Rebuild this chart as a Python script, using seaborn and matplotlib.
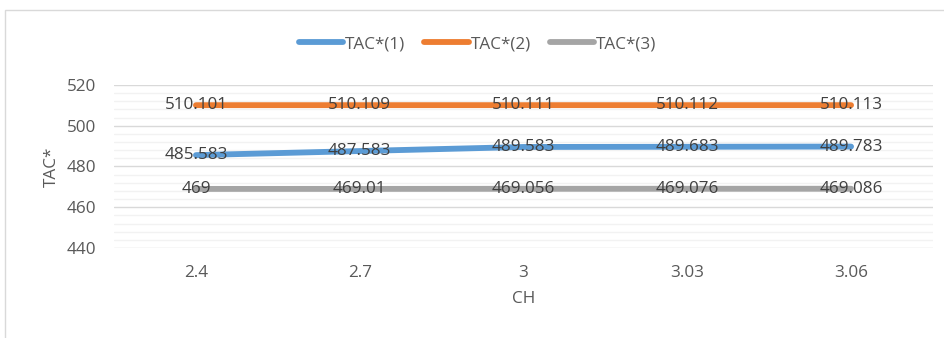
import matplotlib
matplotlib.use("Agg")
import matplotlib.pyplot as plt
import seaborn as sns
import pandas as pd
from matplotlib.patches import Rectangle
from matplotlib.ticker import MultipleLocator

# Data
ch_values = ["2.4", "2.7", "3", "3.03", "3.06"]
tac_1 = [485.583, 487.583, 489.583, 489.683, 489.783]
tac_2 = [510.101, 510.109, 510.111, 510.112, 510.113]
tac_3 = [469, 469.01, 469.056, 469.076, 469.086]
series_names = ["TAC*(1)", "TAC*(2)", "TAC*(3)"]
label_texts = [
    ["485.583", "487.583", "489.583", "489.683", "489.783"],
    ["510.101", "510.109", "510.111", "510.112", "510.113"],
    ["469", "469.01", "469.056", "469.076", "469.086"],
]
colors = ["#5B9BD5", "#ED7D31", "#A5A5A5"]

sns.set_theme(style="white")
plt.rcParams["font.family"] = ["Open Sans", "DejaVu Sans"]

FS = 12.3
LW = 4.2

rows = []
for name, vals in zip(series_names, [tac_1, tac_2, tac_3]):
    for c, v in zip(ch_values, vals):
        rows.append({"CH": c, "TAC*": v, "series": name})
df = pd.DataFrame(rows)

fig = plt.figure(figsize=(9.44, 3.38), dpi=100)
ax = fig.add_axes([0.1208, 0.2663, 0.8675, 0.4822])

sns.lineplot(data=df, x="CH", y="TAC*", hue="series", palette=colors,
             linewidth=LW, ax=ax, legend=False, sort=False, zorder=3)
for line in ax.lines:
    line.set_solid_capstyle("round")

# Data labels centred on the points
label_color = "#404040"
for vals, texts in zip([tac_1, tac_2, tac_3], label_texts):
    for i, (v, t) in enumerate(zip(vals, texts)):
        ax.text(i, v, t, ha="center", va="center", fontsize=FS,
                color=label_color, zorder=4)

ax.set_xlim(-0.5, len(ch_values) - 0.5)
ax.set_ylim(440, 520)
ax.yaxis.set_major_locator(MultipleLocator(20))
ax.yaxis.set_minor_locator(MultipleLocator(4))
ax.grid(which="major", axis="y", color="#D9D9D9", linewidth=1.0, zorder=0)
ax.grid(which="minor", axis="y", color="#F2F2F2", linewidth=1.0, zorder=0)
ax.grid(which="major", axis="x", visible=False)
for s in ax.spines.values():
    s.set_visible(False)

ax.tick_params(axis="both", which="both", length=0, colors="#595959",
               labelsize=FS)
ax.tick_params(axis="x", pad=12.5)
ax.tick_params(axis="y", pad=13)
ax.set_xlabel("CH", color="#595959", fontsize=FS, labelpad=7)
ax.set_ylabel("TAC*", color="#595959", fontsize=FS, labelpad=5)

handles = [plt.Line2D([0], [0], color=c, linewidth=LW, solid_capstyle="round")
           for c in colors]
fig.legend(handles, series_names, loc="center", bbox_to_anchor=(0.506, 0.869),
           ncol=3, frameon=False, fontsize=FS, handlelength=2.6,
           handletextpad=0.12, columnspacing=1.1, labelcolor="#595959")

# Chart area border
fig.patches.append(Rectangle((5 / 944, -0.1), 1.2, 1 - 10 / 338 + 0.1,
                             transform=fig.transFigure, fill=False,
                             edgecolor="#D9D9D9", linewidth=1.0))

fig.savefig("out.png", dpi=100)
